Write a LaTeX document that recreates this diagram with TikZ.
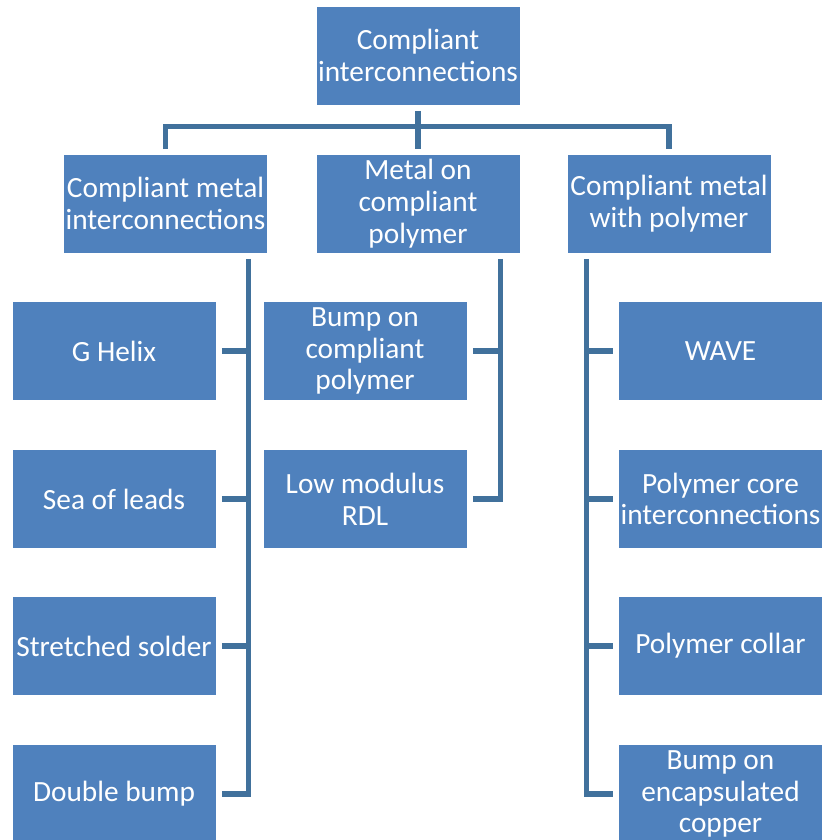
\documentclass[tikz,border=0pt]{standalone}
\usepackage{fontspec}
\setmainfont{Carlito}
\usetikzlibrary{calc}
\definecolor{boxblue}{HTML}{4F81BD}
\definecolor{lineblue}{HTML}{41719C}
\begin{document}
\begin{tikzpicture}[x=0.75pt,y=-0.75pt,
  box/.style={fill=boxblue, text=white, minimum width=152.25pt, minimum height=73.5pt,
    align=center, inner sep=0pt, font=\fontsize{22pt}{23.8pt}\selectfont},
  conn/.style={draw=lineblue, line width=3.8pt}]
\useasboundingbox (0,0) rectangle (822,840);
\clip (0,0) rectangle (822,840);
% top
\node[box] (top) at (418,55.5) {Compliant\\interconnections};
% level 2
\node[box] (l2a) at (165.5,203.5) {Compliant metal\\interconnections};
\node[box] (l2b) at (418,203.5) {Metal on\\compliant\\polymer};
\node[box] (l2c) at (669,203.5) {Compliant metal\\with polymer};
% left column
\node[box] (a1) at (114,351) {G Helix};
\node[box] (a2) at (114,499) {Sea of leads};
\node[box] (a3) at (114,646) {Stretched solder};
\node[box] (a4) at (114,794) {Double bump};
% middle column
\node[box] (b1) at (365,351) {Bump on\\compliant\\polymer};
\node[box] (b2) at (365,499) {Low modulus\\RDL};
% right column
\node[box] (c1) at (720.5,351) {WAVE};
\node[box] (c2) at (720.5,499) {Polymer core\\interconnections};
\node[box] (c3) at (720.5,646) {Polymer collar};
\node[box] (c4) at (720.5,794) {Bump on\\encapsulated\\copper};
% top connectors
\draw[conn] ($(l2a.north)+(0,-5)$) -- ++(0,-23) -| ($(l2c.north)+(0,-5)$);
\draw[conn] ($(top.south)+(0,6)$) -- ($(l2b.north)+(0,-5)$);
% left trunk
\coordinate (ta) at ($(l2a.south east)+(-19,6)$);
\draw[conn] (ta) |- ($(a4.east)+(6,0)$);
\foreach \n in {a1,a2,a3}
  \draw[conn] ($(\n.east)+(6,0)$) -- (\n.east -| ta);
% middle trunk
\coordinate (tb) at ($(l2b.south east)+(-19,6)$);
\draw[conn] (tb) |- ($(b2.east)+(6,0)$);
\draw[conn] ($(b1.east)+(6,0)$) -- (b1.east -| tb);
% right trunk
\coordinate (tc) at ($(l2c.south west)+(19,6)$);
\draw[conn] (tc) |- ($(c4.west)+(-6,0)$);
\foreach \n in {c1,c2,c3}
  \draw[conn] ($(\n.west)+(-6,0)$) -- (\n.west -| tc);
\end{tikzpicture}
\end{document}
